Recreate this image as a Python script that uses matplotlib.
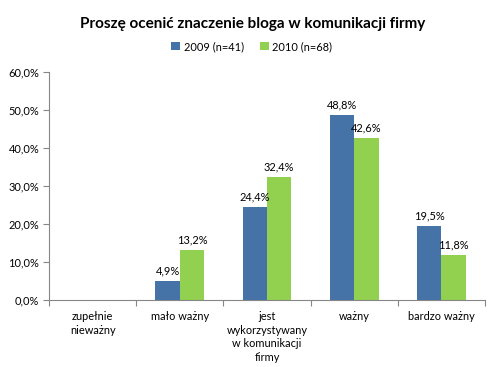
import matplotlib.pyplot as plt
import numpy as np

plt.rcParams['font.family'] = ['Lato', 'DejaVu Sans']

categories = ['zupełnie\nnieważny', 'mało ważny', 'jest\nwykorzystywany\nw komunikacji\nfirmy', 'ważny', 'bardzo ważny']
s2009 = [0.0, 4.9, 24.4, 48.8, 19.5]
s2010 = [0.0, 13.2, 32.4, 42.6, 11.8]
labels = ['2009 (n=41)', '2010 (n=68)']

fig = plt.figure(figsize=(4.89, 3.67), dpi=100)
ax = fig.add_axes([0.1002, 0.1826, 0.8916, 0.6212])

x = np.arange(len(categories))
w = 0.28
b1 = ax.bar(x - w / 2, s2009, w, color='#4572A7', label=labels[0])
b2 = ax.bar(x + w / 2, s2010, w, color='#92D050', label=labels[1])

fs = 7.9
for bars, vals in ((b1, s2009), (b2, s2010)):
    for b, v in zip(bars, vals):
        if v > 0:
            ax.text(b.get_x() + b.get_width() / 2, v + 1.2, f'{v:.1f}%'.replace('.', ','),
                    ha='center', va='bottom', fontsize=fs)

ax.set_xlim(-0.5, len(categories) - 0.5)
ax.set_ylim(0, 60)
ax.set_yticks(np.arange(0, 61, 10))
ax.set_yticklabels([f'{t:.1f}%'.replace('.', ',') for t in np.arange(0, 61, 10)], fontsize=fs)
ax.set_xticks(np.arange(-0.5, len(categories), 1))
ax.set_xticklabels([])
ax.set_xticks(x, minor=True)
ax.set_xticklabels(categories, minor=True, fontsize=fs, linespacing=1.3)
ax.tick_params(axis='x', which='minor', length=0, pad=8)
ax.tick_params(axis='x', which='major', length=4, color='#868686')
ax.tick_params(axis='y', length=4, color='#868686', pad=3)
for s in ('top', 'right'):
    ax.spines[s].set_visible(False)
for s in ('left', 'bottom'):
    ax.spines[s].set_color('#868686')

fig.text(0.516, 0.935, 'Proszę ocenić znaczenie bloga w komunikacji firmy', ha='center', va='center',
         fontsize=11, fontweight='bold')
fig.legend(loc='center', bbox_to_anchor=(0.515, 0.873), ncol=2, frameon=False, fontsize=fs,
           handlelength=0.8, handleheight=0.8, handletextpad=0.3, columnspacing=1.5)

fig.savefig('out.png', dpi=100)
